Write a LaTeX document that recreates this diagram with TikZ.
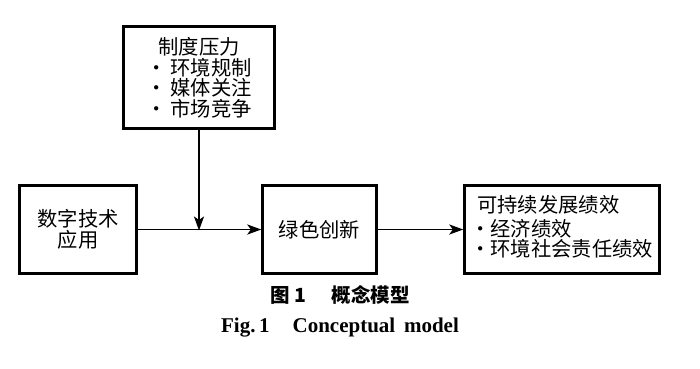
\documentclass[tikz,border=0pt]{standalone}
\usepackage{fontspec}
\setmainfont{Liberation Serif}
\newfontfamily\cjk{Noto Sans CJK SC}
\usetikzlibrary{arrows.meta}
\tikzset{
  box/.style={draw, line width=2.4pt, inner sep=0pt, font=\cjk\fontsize{20.3}{20.5}\selectfont},
  conn/.style={line width=1.9pt, -{Stealth[length=14pt,width=10pt,inset=3.5pt]}},
  captext/.style={inner sep=0pt}
}
\begin{document}
\begin{tikzpicture}[x=1pt,y=-1pt]
\fill[white] (0,0) rectangle (700,368);
\useasboundingbox (0,0) rectangle (700,368);
\node[box, minimum width=151pt, minimum height=102pt, align=center] (top) at (199,77.5)
  {制度压力\\•\hspace{4pt}环境规制\\•\hspace{4pt}媒体关注\\•\hspace{4pt}市场竞争};
\node[box, minimum width=117pt, minimum height=88pt, align=center] (left) at (78,229.5)
  {数字技术\\应用};
\node[box, minimum width=114pt, minimum height=88pt] (green) at (319.5,229.5) {绿色创新};
\node[box, minimum width=195pt, minimum height=88pt] (right) at (562,229.5) {};
\node[inner sep=0pt, anchor=west, align=left, font=\cjk\fontsize{20.3}{20.5}\selectfont] (rtext) at (470,227)
  {\hspace{7pt}可持续发展绩效\\[3pt]•经济绩效\\•环境社会责任绩效};
\coordinate (j) at (199,230.5);
\draw[conn] (left.east) -- (green.west);
\draw[conn] (green.east) -- (right.west);
\draw[conn] (top.south) -- (j);
\node[captext, font=\cjk\bfseries\fontsize{19.5}{20}\selectfont] (c1) at (340,295) {图 1\hspace{1.3em}概念模型};
\node[captext, font=\bfseries\fontsize{21}{22}\selectfont] (c2) at (340,328) {Fig.\,1\hspace{1.1em}Conceptual\, model};
\end{tikzpicture}
\end{document}
